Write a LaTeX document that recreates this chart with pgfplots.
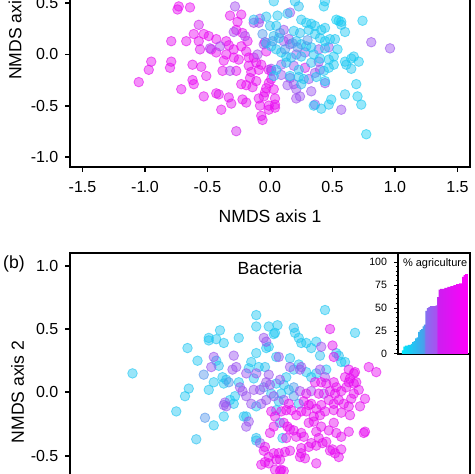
\documentclass[border=0pt]{standalone}
\usepackage{pgfplots}
\pgfplotsset{compat=1.18}
\usepackage{pgfplotstable}
\usepackage{fontspec}
\setmainfont{Liberation Sans}

\pgfplotstableread{
x y c
-1.05 -0.27 85
-0.95 -0.07 85
-0.97 -0.15 85
-0.79 -0.07 85
-0.80 -0.13 85
-0.79 0.13 82
-0.71 -0.34 85
-0.73 0.47 88
-0.74 0.44 85
-0.64 0.46 88
-0.67 0.13 85
-0.61 0.20 88
-0.57 0.29 75
-0.62 -0.10 85
-0.57 0.13 85
-0.56 0.05 80
-0.55 -0.12 85
-0.62 -0.25 85
-0.61 -0.29 88
-0.53 -0.41 85
-0.53 0.20 88
-0.49 0.18 85
-0.47 0.05 85
-0.51 -0.21 85
-0.43 0.15 88
-0.43 0.02 85
-0.43 -0.38 85
-0.41 -0.39 80
-0.39 -0.54 85
-0.38 -0.16 85
-0.37 -0.06 88
-0.35 0.13 85
-0.35 0.00 88
-0.33 0.09 85
-0.33 -0.42 85
-0.31 -0.48 82
-0.32 0.38 85
-0.27 0.24 85
-0.26 0.32 88
-0.23 0.39 85
-0.22 0.21 85
-0.29 0.05 85
-0.29 -0.03 88
-0.27 -0.16 85
-0.25 -0.05 85
-0.23 0.08 88
-0.19 0.03 85
-0.18 0.13 85
-0.17 -0.11 85
-0.17 -0.03 88
-0.15 -0.17 85
-0.23 -0.29 85
-0.22 -0.44 85
-0.19 -0.47 82
-0.19 -0.30 88
-0.16 -0.23 85
-0.14 -0.32 85
-0.11 -0.26 85
-0.09 -0.15 88
-0.11 -0.08 85
-0.07 -0.10 85
-0.05 -0.41 85
-0.03 -0.33 88
-0.04 -0.37 85
-0.07 -0.60 85
-0.06 -0.64 82
-0.27 -0.75 75
-0.09 -0.43 85
-0.08 -0.50 85
-0.01 -0.50 88
-0.01 -0.54 85
0.03 -0.34 88
0.04 -0.43 85
0.04 -0.49 88
0.04 -0.52 85
-0.01 -0.28 85
0.01 -0.24 85
-0.03 0.03 85
-0.04 0.12 85
-0.01 -0.15 85
0.01 -0.16 80
-0.13 -0.03 85
0.28 -0.13 75
-0.28 0.47 58
-0.29 0.22 60
-0.13 0.31 58
-0.09 0.31 58
-0.48 0.06 62
-0.40 0.08 60
-0.32 -0.16 62
-0.20 0.18 60
-0.10 0.00 58
-0.05 0.10 58
-0.08 0.35 55
0.16 0.41 55
0.81 0.12 55
0.96 0.06 55
0.11 0.24 55
0.11 0.13 55
0.15 0.15 58
0.16 0.10 55
0.39 0.05 55
0.47 0.07 55
0.21 0.00 55
0.28 0.02 58
0.40 -0.15 55
0.39 -0.07 55
0.19 -0.11 55
0.09 -0.10 55
0.01 -0.14 58
0.09 -0.20 55
0.31 -0.24 55
0.36 -0.18 55
0.19 -0.29 55
0.21 -0.34 55
0.21 -0.43 58
0.24 -0.41 55
0.33 -0.36 55
0.36 -0.49 55
0.57 -0.54 55
0.14 -0.30 55
0.16 -0.23 55
0.44 -0.28 55
0.03 0.52 12
0.20 0.52 12
0.23 0.47 15
0.43 0.47 10
0.44 0.52 12
-0.13 0.34 15
-0.03 0.37 12
0.06 0.38 12
0.14 0.40 15
0.25 0.34 12
0.29 0.31 10
0.33 0.30 12
0.36 0.28 12
0.41 0.24 10
0.44 0.26 12
0.53 0.34 8
0.55 0.33 8
0.57 0.32 10
0.57 0.29 12
0.60 0.22 12
0.74 0.33 10
0.00 0.28 15
0.05 0.28 12
0.19 0.23 12
0.24 0.21 15
0.31 0.24 12
0.36 0.20 12
0.40 0.16 12
0.44 0.13 10
0.48 0.15 12
0.52 0.15 12
0.03 0.18 15
0.07 0.16 12
0.21 0.13 15
0.25 0.10 12
0.29 0.08 12
0.33 0.07 12
0.44 0.06 12
0.54 0.05 10
-0.03 0.11 15
0.01 0.08 12
0.05 0.05 15
0.09 0.02 12
0.13 -0.02 12
0.17 -0.03 15
0.25 -0.02 12
0.35 0.00 12
0.40 -0.04 10
0.47 -0.05 12
0.51 -0.02 12
0.60 -0.07 10
0.65 -0.04 10
0.67 -0.02 12
0.71 -0.07 10
0.65 -0.14 12
0.61 -0.10 12
0.51 -0.10 10
0.47 -0.13 12
0.43 -0.16 12
0.33 -0.08 15
0.23 -0.15 12
0.13 -0.08 15
0.05 -0.15 12
0.03 -0.21 12
0.16 -0.21 12
0.23 -0.22 15
0.27 -0.24 12
0.37 -0.22 12
0.44 -0.26 10
0.25 -0.29 15
0.35 -0.50 12
0.41 -0.53 12
0.47 -0.49 12
0.49 -0.44 10
0.60 -0.39 12
0.69 -0.29 10
0.70 -0.41 10
0.73 -0.49 10
0.77 -0.78 8
0.08 0.21 30
0.18 0.11 30
0.30 0.14 32
0.12 0.05 30
0.22 0.07 32
0.02 0.13 30
-0.06 0.20 30
}\topdata

\pgfplotstableread{
x y c
-1.10 0.15 12
-0.66 0.35 12
-0.58 0.25 12
-0.65 0.03 12
-0.68 -0.03 12
-0.75 -0.15 12
-0.59 -0.37 15
-0.45 -0.26 12
-0.49 0.43 12
-0.49 0.41 12
-0.43 0.42 12
-0.40 0.49 12
-0.37 0.39 12
-0.25 0.43 12
-0.43 0.25 12
-0.41 0.21 15
-0.45 0.08 12
-0.49 0.02 12
-0.38 0.12 12
-0.37 0.07 12
-0.35 0.10 15
-0.25 0.08 12
-0.28 -0.03 12
-0.32 -0.06 12
-0.29 -0.09 12
-0.37 -0.19 12
-0.21 -0.19 12
-0.19 -0.19 15
-0.17 0.19 12
-0.13 0.11 12
-0.09 0.20 12
-0.04 0.20 15
-0.03 0.35 12
-0.01 0.36 12
-0.11 0.61 12
-0.11 0.52 12
-0.01 0.52 12
0.06 0.53 12
0.04 0.47 12
0.03 0.46 12
0.05 0.28 15
-0.11 0.31 12
-0.15 0.24 12
0.01 -0.01 15
0.05 0.07 12
0.11 0.06 15
0.13 0.12 12
0.16 0.27 12
0.19 0.51 15
0.20 0.47 12
0.23 0.43 12
0.25 0.39 12
0.29 0.39 12
0.33 0.35 12
0.37 0.40 12
0.40 0.29 15
0.44 0.65 12
0.53 0.31 12
0.55 0.29 15
0.57 0.24 12
0.68 0.47 12
0.60 0.24 12
0.19 0.18 15
0.23 0.22 12
0.29 0.16 12
0.33 0.12 15
0.37 0.15 12
0.45 0.18 12
0.15 0.02 15
0.09 -0.01 12
-0.11 -0.11 12
0.07 -0.07 15
0.23 -0.09 15
0.05 -0.14 15
-0.11 -0.36 15
-0.11 -0.38 15
0.10 -0.36 15
0.08 -0.24 12
-0.52 -0.20 32
-0.53 0.14 32
-0.33 0.08 30
-0.05 0.04 30
0.19 0.04 30
0.19 -0.03 30
-0.45 0.28 55
-0.47 0.20 55
-0.29 0.29 55
-0.30 0.18 55
-0.27 0.20 55
-0.24 0.04 55
-0.36 -0.08 55
-0.37 -0.10 52
-0.35 -0.11 55
-0.22 0.01 55
-0.19 -0.27 55
-0.17 -0.23 55
-0.19 0.15 55
-0.11 0.15 55
-0.05 0.43 55
-0.03 0.40 55
0.07 0.28 55
-0.13 0.02 55
-0.08 0.02 55
-0.03 0.08 55
-0.01 0.14 55
0.00 0.06 55
0.08 0.10 55
0.41 0.36 58
0.16 0.20 55
0.24 0.18 55
0.25 0.20 55
0.40 0.18 58
0.44 0.12 58
0.43 -0.01 60
0.33 0.01 58
0.24 0.01 58
0.03 -0.03 55
-0.03 -0.06 55
-0.07 -0.09 55
-0.15 -0.09 55
-0.19 -0.03 55
0.11 -0.06 55
-0.08 -0.40 55
0.48 0.50 82
0.50 0.37 82
0.51 0.28 82
0.63 0.18 85
0.67 0.15 85
0.64 0.11 85
0.68 0.16 85
0.79 0.20 85
0.85 0.16 85
0.36 0.08 85
0.41 0.08 85
0.45 0.07 82
0.51 0.08 85
0.53 0.04 85
0.60 0.12 85
0.63 0.08 85
0.67 0.07 85
0.69 0.08 85
0.61 0.04 85
0.57 0.01 85
0.52 -0.01 85
0.48 0.01 82
0.39 -0.01 85
0.29 -0.01 80
0.15 -0.09 85
0.27 -0.07 85
0.31 -0.10 85
0.33 -0.09 85
0.37 -0.13 85
0.41 -0.10 85
0.47 -0.06 85
0.51 -0.09 85
0.55 -0.06 85
0.59 -0.09 85
0.63 -0.11 85
0.65 -0.05 85
0.67 -0.01 85
0.71 0.02 85
0.72 -0.11 85
0.76 -0.05 85
0.64 -0.18 85
0.57 -0.16 85
0.51 -0.14 85
0.44 -0.15 85
0.40 -0.18 85
0.35 -0.19 85
0.29 -0.15 85
0.25 -0.15 88
0.21 -0.18 88
0.17 -0.14 88
0.13 -0.14 85
0.09 -0.15 85
0.11 -0.24 85
0.14 -0.27 85
0.19 -0.30 85
0.21 -0.35 85
0.25 -0.32 85
0.27 -0.35 85
0.31 -0.24 85
0.35 -0.23 85
0.37 -0.31 85
0.41 -0.27 85
0.47 -0.30 85
0.51 -0.24 85
0.53 -0.32 85
0.57 -0.35 85
0.63 -0.31 85
0.75 -0.32 85
0.76 -0.31 85
0.33 -0.40 85
0.37 -0.42 85
0.42 -0.40 85
0.45 -0.39 85
0.39 -0.36 85
0.31 -0.43 85
0.25 -0.44 85
0.48 -0.46 85
0.52 -0.48 85
0.57 -0.45 85
0.55 -0.51 85
0.16 -0.46 85
0.12 -0.47 85
0.05 -0.53 85
0.04 -0.61 85
0.09 -0.61 85
-0.01 -0.51 85
-0.05 -0.46 85
-0.04 -0.55 85
-0.07 -0.57 85
-0.01 -0.56 85
0.07 -0.48 85
0.08 -0.53 85
0.13 -0.36 85
0.16 -0.29 85
0.25 -0.48 85
0.28 -0.52 85
0.37 -0.56 85
-0.04 -0.43 85
0.00 -0.32 85
0.03 -0.27 85
0.04 -0.19 85
0.01 -0.15 85
0.08 -0.62 85
0.11 -0.62 85
0.24 -0.51 85
0.50 -0.45 85
0.03 -0.48 85
}\bottomdata

\pgfdeclarehorizontalshading{agri}{100bp}{rgb(0bp)=(0,0.9,0.98); rgb(25bp)=(0,0.9,0.98); rgb(41.5bp)=(0.29,0.62,0.92); rgb(42.75bp)=(0.53,0.43,0.94); rgb(51bp)=(0.66,0.32,0.94); rgb(52bp)=(0.80,0.12,0.94); rgb(75bp)=(1,0,0.98); rgb(100bp)=(1,0,0.98)}

\pgfplotsset{
  colormap={agri}{rgb255(0cm)=(0,225,250); rgb255(25cm)=(60,170,235); rgb255(45cm)=(125,110,240); rgb255(60cm)=(170,70,240); rgb255(80cm)=(225,15,240); rgb255(100cm)=(255,0,250)},
  sc/.style={only marks, scatter, scatter src=explicit, mark=*, mark size=2.4pt,
    scatter/use mapped color={draw=mapped color, fill=mapped color, draw opacity=0.6, fill opacity=0.45, line width=0.4pt}},
  mainax/.style={scale only axis, width=200pt, xmin=-1.6, xmax=1.6, ymin=-1.1, ymax=1.1,
    point meta min=0, point meta max=100,
    axis line style={line width=1pt}, tick style={line width=0.9pt, black},
    tick align=outside, major tick length=2.3pt, xtick pos=left, ytick pos=left,
    tick label style={font=\fontsize{8}{9}\selectfont},
    xtick={-1.5,-1,-0.5,0,0.5,1,1.5}, xticklabels={-1.5,-1.0,-0.5,0.0,0.5,1.0,1.5},
    ytick={-1,-0.5,0,0.5,1}, yticklabels={-1.0,-0.5,0.0,0.5,1.0},
    xticklabel style={yshift=-1.5pt}}
}

\begin{document}
\begin{tikzpicture}
\path[use as bounding box] (0,0) rectangle (237pt,237pt);
\fill[white] (0,0) rectangle (237pt,237pt);
\clip (0,0) rectangle (237pt,237pt);

\begin{axis}[mainax, at={(35pt,153.5pt)}, anchor=south west, height=112.5pt]
\addplot[sc] table[x=x, y=y, meta=c] {\topdata};
\end{axis}

\begin{axis}[mainax, at={(35pt,110.5pt)}, anchor=north west, height=139.4pt]
\addplot[sc] table[x=x, y=y, meta=c] {\bottomdata};
\node[font=\fontsize{8.8}{10}\selectfont] at (axis cs:0,0.98) {Bacteria};
\end{axis}

\begin{axis}[scale only axis, at={(199pt,60pt)}, anchor=south west, width=36pt, height=50.5pt,
  xmin=-2.7, xmax=46.4, ymin=0, ymax=110, xtick=\empty,
  ytick={0,25,50,75,100}, yticklabels={0,25,50,75,100},
  minor y tick num=4, ytick pos=left, tick align=outside,
  major tick length=2pt, minor tick length=1.2pt,
  axis line style={line width=0.7pt}, tick style={line width=0.5pt, black},
  axis background/.style={fill=white},
  tick label style={font=\fontsize{5.3}{6}\selectfont}]
\addplot[const plot mark left, draw=none, shade, shading=agri] coordinates {
(0,4) (1,8) (2,9) (3,9) (4,10) (5,10) (6,11) (7,13) (8,14) (9,17) (10,18)
(11,24) (12,26) (13,27) (14,30) (15,32) (16,47) (17,50) (18,51) (19,52) (20,52)
(21,52) (22,52) (23,53) (24,62) (25,70) (26,71) (27,71) (28,71) (29,72) (30,72)
(31,73) (32,73) (33,74) (34,74) (35,75) (36,75) (37,76) (38,76) (39,77) (40,77)
(41,84) (42,86) (43,87) (44,87) (45,87)} \closedcycle;
\node[anchor=north west, inner sep=0.5pt, font=\fontsize{5.5}{6}\selectfont] at (rel axis cs:0.05,0.96) {\% agriculture};
\end{axis}

\node[rotate=90, font=\fontsize{8.8}{10}\selectfont] at (7.5pt,222.75pt) {NMDS axis 2};
\node[font=\fontsize{8.8}{10}\selectfont] at (135pt,129pt) {NMDS axis 1};
\node[rotate=90, font=\fontsize{8.8}{10}\selectfont] at (8.75pt,41pt) {NMDS axis 2};
\node[font=\fontsize{8.8}{10}\selectfont] at (7pt,105pt) {(b)};
\end{tikzpicture}
\end{document}
